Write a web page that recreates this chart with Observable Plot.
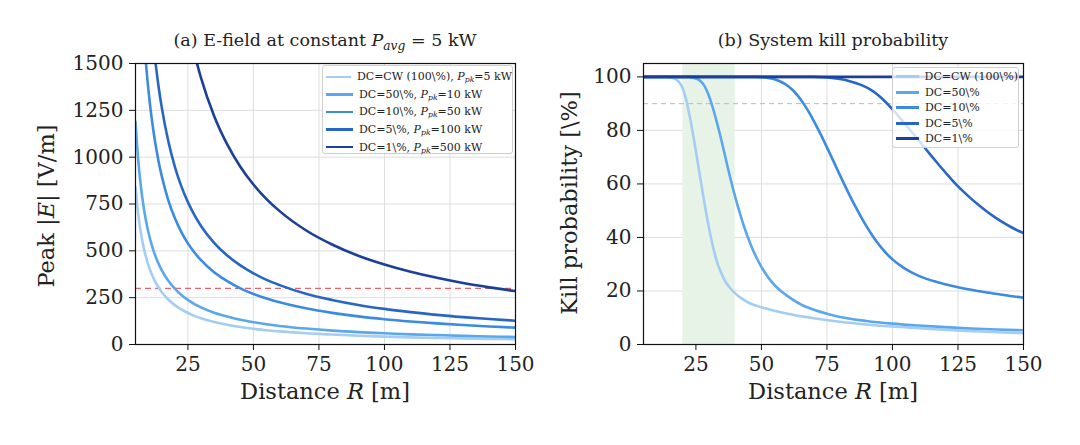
<!DOCTYPE html>
<html>
<head>
<meta charset="utf-8">
<script src="https://cdn.jsdelivr.net/npm/d3@7"></script>
<script src="https://cdn.jsdelivr.net/npm/@observablehq/plot@0.6"></script>
<style>
  body { margin: 0; background: #fff; }
  #wrap { position: relative; width: 1080px; height: 445px; font-family: "DejaVu Serif", serif; color: #222; }
  .panel { position: absolute; top: 0; }
  .title { position: absolute; top: 30px; font-size: 17.5px; text-align: center; white-space: nowrap; }
  .xlab { position: absolute; top: 378px; font-size: 22.5px; text-align: center; white-space: nowrap; }
  .ylab { position: absolute; font-size: 22.5px; white-space: nowrap; transform: translate(-50%, -50%) rotate(-90deg); }
  .legend { position: absolute; border: 1px solid #cfcfcf; border-radius: 3px; box-sizing: border-box; }
  .legend .row { display: flex; align-items: center; white-space: nowrap; }
  .legend .sw { display: inline-block; height: 2.6px; margin-right: 6px; }
  sub { font-size: 0.7em; vertical-align: -0.3em; line-height: 0; }
</style>
</head>
<body>
<div id="wrap">
  <div class="panel" id="left" style="left:0"></div>
  <div class="panel" id="right" style="left:540px"></div>
</div>
<script>
// ---------- Data ----------
const seriesNamesA = ["DC=CW (100\\%), ", "DC=50\\%, ", "DC=10\\%, ", "DC=5\\%, ", "DC=1\\%, "];
const peakPowerLabels = ["=5 kW", "=10 kW", "=50 kW", "=100 kW", "=500 kW"];
const seriesNamesB = ["DC=CW (100\\%)", "DC=50\\%", "DC=10\\%", "DC=5\\%", "DC=1\\%"];
const colors = ["#a3cdf3", "#5aa7ee", "#3b8be0", "#2866c6", "#1c3f98"];

// (a) peak field [V/m] vs distance [m]
const distA = [5,6,7,8,9,10,11,12,13,14,15,17.5,20,22.5,25,27.5,30,35,40,45,50,55,60,70,80,90,100,110,120,130,140,150];
const e5   = [840,700,600,525,467,420,382,350,323,300,280,240,210,187,168,153,140,120,105,93,84,76,70,60,53,47,42,38,35,32,30,28];
const e10  = [1190,992,850,744,661,595,541,496,458,425,397,340,298,264,238,216,198,170,149,132,119,108,99,85,74,66,60,54,50,46,43,40];
const e50  = [2700,2250,1929,1688,1500,1350,1227,1125,1038,964,900,771,675,600,540,491,450,386,338,300,270,245,225,193,169,150,135,123,113,104,96,90];
const e100 = [3800,3167,2714,2375,2111,1900,1727,1583,1462,1357,1267,1086,950,844,760,691,633,543,475,422,380,345,317,271,238,211,190,173,158,146,136,127];
const e500 = [8540,7117,6100,5338,4744,4270,3882,3558,3285,3050,2847,2440,2135,1898,1708,1553,1423,1220,1068,949,854,776,712,610,534,474,427,388,356,328,305,285];
const eThreshold = 300;

// (b) kill probability [%] vs distance [m]
const rCW = [5,14,16,18,19,20,21,22,23,24,25,26,27,28,29,30,31,32,33,34,35,36,37,38,40,42,45,50,55,60,70,80,90,100,110,120,130,140,150];
const pCW = [100,100,99.7,98.6,97.5,95.6,92.5,88.3,83.5,78,72.2,66.2,60.2,54.3,48.7,43.5,38.8,34.6,31,28.3,26,24,22.4,21.1,19.1,17.5,15.7,13.9,12.6,11.5,9.8,8.5,7.5,6.7,6.1,5.5,5,4.6,4.2];
const r50 = [5,22,24,26,27,28,29,30,31,32,33,34,35,36,37,38,39,40,41,42,43,44,45,46,47,48,50,52,54,56,58,60,65,70,75,80,90,100,110,120,130,140,150];
const p50 = [100,100,99.7,99,98.2,97,95.2,92.8,89.9,86.6,83,79.2,75.2,71,66.8,62.7,58.8,55.1,51.6,48.3,45.2,42.3,39.6,37.1,34.8,32.7,29,25.9,23.3,21.2,19.5,18.1,15,13,11.5,10.3,8.8,7.8,7.1,6.5,6,5.6,5.3];
const r10 = [5,48,52,55,58,60,62,64,66,68,70,72,74,76,78,80,82,84,86,88,90,92,94,96,98,100,104,108,112,116,120,125,130,135,140,145,150];
const p10 = [100,100,99.7,99.1,97.9,96.7,95,92.8,90.1,87,83.5,79.7,75.7,71.6,67.4,63.2,59.1,55.1,51.3,47.7,44.3,41.2,38.4,35.9,33.7,31.8,28.8,26.6,24.9,23.6,22.5,21.4,20.45,19.6,18.85,18.15,17.5];
const r5  = [5,70,75,80,84,88,91,94,97,100,103,106,109,112,115,118,121,124,127,130,133,136,139,142,145,148,150];
const p5  = [100,100,99.8,99.2,98.3,97,95.6,93.6,91,87.9,84.5,81,77.5,73.9,70.3,66.8,63.4,60.1,57.2,54.5,52,49.7,47.6,45.7,44,42.5,41.6];
const r1  = [5,150];
const p1  = [100,100];
const pThreshold = 90;
const bandStart = 20, bandEnd = 40;

const xTicks = [25,50,75,100,125,150];
const yTicksA = [0,250,500,750,1000,1250,1500];
const yTicksB = [0,20,40,60,80,100];

// ---------- Helpers ----------
const seriesA = [e5, e10, e50, e100, e500].map((vals, i) => distA.map((r, j) => ({r, v: vals[j], i})));
const seriesB = [[rCW,pCW],[r50,p50],[r10,p10],[r5,p5],[r1,p1]].map(([rs, ps], i) => rs.map((r, j) => ({r, v: ps[j], i})));

const baseStyle = {fontFamily: "DejaVu Serif", fontSize: "20px", color: "#222", background: "transparent", overflow: "visible"};

function panel({domainY, yTicks, series, extras, marginLeft, marginRight}) {
  return Plot.plot({
    width: 540, height: 445,
    marginLeft, marginRight, marginTop: 63, marginBottom: 101,
    style: baseStyle,
    x: {domain: [5, 150]},
    y: {domain: domainY},
    marks: [
      Plot.gridX(xTicks, {stroke: "#dedede", strokeOpacity: 1, strokeWidth: 1}),
      Plot.gridY(yTicks, {stroke: "#dedede", strokeOpacity: 1, strokeWidth: 1}),
      ...extras,
      ...series.map((s, i) => Plot.line(s, {x: "r", y: "v", stroke: colors[i], strokeWidth: 2.6, curve: "monotone-x", clip: true})),
      Plot.frame({stroke: "#111", strokeWidth: 1.2}),
      Plot.axisX(xTicks, {tickSize: 6, tickPadding: 6, stroke: "#111", fill: "#222", label: null}),
      Plot.axisY(yTicks, {tickSize: 6, tickPadding: 6, stroke: "#111", fill: "#222", label: null, tickFormat: d => String(d)})
    ]
  });
}

const left = panel({
  domainY: [0, 1500], yTicks: yTicksA, series: seriesA,
  marginLeft: 135, marginRight: 25,
  extras: [Plot.ruleY([eThreshold], {stroke: "#ec5156", strokeDasharray: "6,4", strokeWidth: 1.2, strokeOpacity: 0.9})]
});
const right = panel({
  domainY: [0, 105], yTicks: yTicksB, series: seriesB,
  marginLeft: 103, marginRight: 57,
  extras: [
    Plot.rect([{a: bandStart, b: bandEnd}], {x1: "a", x2: "b", fill: "#e8f3e8"}),
    Plot.ruleY([pThreshold], {stroke: "#bbbbbb", strokeDasharray: "5,4", strokeWidth: 1})
  ]
});
document.getElementById("left").appendChild(left);
document.getElementById("right").appendChild(right);

// ---------- Text overlays ----------
const wrap = document.getElementById("wrap");
function add(html, cls, style) {
  const d = document.createElement("div");
  d.className = cls; d.innerHTML = html; Object.assign(d.style, style); wrap.appendChild(d); return d;
}
add('(a) E-field at constant <i>P</i><sub><i>avg</i></sub> = 5 kW', "title", {left: "135px", width: "380px"});
add('(b) System kill probability', "title", {left: "643px", width: "380px"});
add('Distance <i>R</i> [m]', "xlab", {left: "135px", width: "380px"});
add('Distance <i>R</i> [m]', "xlab", {left: "643px", width: "380px"});
add('Peak |<i>E</i>| [V/m]', "ylab", {left: "46px", top: "206px"});
add('Kill probability [\\%]', "ylab", {left: "569px", top: "203px"});

// legends
const legA = add("", "legend", {left: "322px", top: "65px", width: "191px", height: "89px", background: "#fff", padding: "2px 0 0 3px", fontSize: "11px"});
seriesNamesA.forEach((n, i) => {
  legA.innerHTML += `<div class="row" style="height:17.6px"><span class="sw" style="width:27px;background:${colors[i]}"></span><span>${n}<i>P</i><sub><i>pk</i></sub>${peakPowerLabels[i]}</span></div>`;
});
const legB = add("", "legend", {left: "892px", top: "67px", width: "127px", height: "81px", background: "rgba(255,255,255,0.8)", padding: "1px 0 0 3px", fontSize: "11px"});
seriesNamesB.forEach((n, i) => {
  legB.innerHTML += `<div class="row" style="height:15.5px"><span class="sw" style="width:23px;background:${colors[i]}"></span><span>${n}</span></div>`;
});
</script>
</body>
</html>
